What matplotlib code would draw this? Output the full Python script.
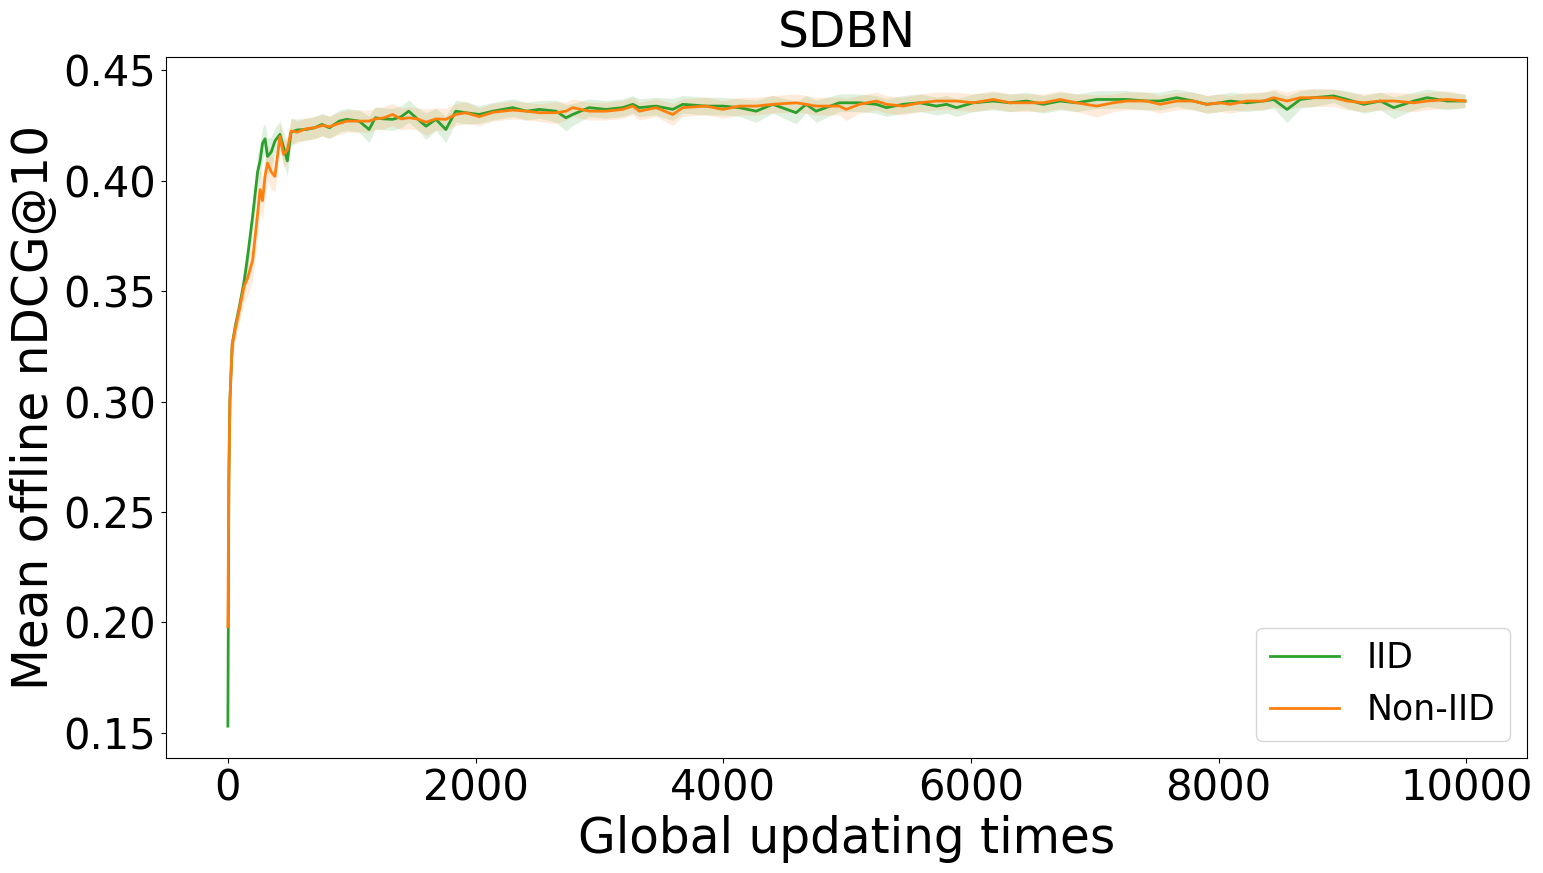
import matplotlib
matplotlib.use("Agg")
import matplotlib.pyplot as plt
import numpy as np

# sample positions (global updating times)
steps = [
    0, 8, 16, 35, 60, 90, 130, 160, 200, 240,
    260, 280, 300, 320, 350, 380, 420, 450, 480, 510,
    560, 630, 700, 760, 820, 900, 960, 1060, 1140, 1190,
    1260, 1330, 1400, 1460, 1530, 1600, 1680, 1760, 1840, 1920,
    2030, 2140, 2300, 2410, 2514, 2649, 2730, 2784, 2918, 3053,
    3188, 3269, 3323, 3457, 3592, 3673, 3861, 3996, 4130, 4265,
    4400, 4588, 4669, 4749, 4938, 4992, 5099, 5236, 5317, 5452,
    5587, 5721, 5802, 5883, 6018, 6180, 6315, 6449, 6584, 6719,
    6853, 7015, 7150, 7258, 7419, 7527, 7662, 7796, 7904, 8012,
    8093, 8228, 8363, 8444, 8552, 8660, 8768, 8929, 9037, 9172,
    9306, 9414, 9576, 9684, 9845, 9990,
]

iid_mean = [
    0.153, 0.265, 0.300, 0.326, 0.334, 0.342, 0.354, 0.366, 0.384, 0.404,
    0.409, 0.417, 0.419, 0.411, 0.413, 0.418, 0.421, 0.415, 0.409, 0.422,
    0.423, 0.4232, 0.424, 0.4255, 0.424, 0.427, 0.4278, 0.427, 0.4232, 0.4285,
    0.428, 0.4278, 0.429, 0.4315, 0.428, 0.4247, 0.4278, 0.4232, 0.4315, 0.4308,
    0.430, 0.4315, 0.4331, 0.4315, 0.4323, 0.4315, 0.4285, 0.4300, 0.4331, 0.4323,
    0.4331, 0.4346, 0.4331, 0.4338, 0.4323, 0.4346, 0.4338, 0.4338, 0.4331, 0.4315,
    0.4346, 0.4308, 0.4346, 0.4315, 0.4353, 0.4353, 0.4353, 0.4346, 0.4331, 0.4346,
    0.4353, 0.4338, 0.4346, 0.4331, 0.4353, 0.4361, 0.4353, 0.4361, 0.4346, 0.4361,
    0.4353, 0.4368, 0.4368, 0.4368, 0.4361, 0.4361, 0.4376, 0.4361, 0.4346, 0.4353,
    0.4361, 0.4353, 0.4361, 0.4368, 0.4323, 0.4368, 0.4376, 0.4384, 0.4368, 0.4346,
    0.4361, 0.4331, 0.4361, 0.4376, 0.4361, 0.4361,
]

noniid_mean = [
    0.198, 0.265, 0.300, 0.326, 0.333, 0.341, 0.352, 0.356, 0.364, 0.385,
    0.396, 0.391, 0.402, 0.408, 0.404, 0.402, 0.420, 0.412, 0.414, 0.4225,
    0.422, 0.4235, 0.424, 0.425, 0.4245, 0.426, 0.427, 0.427, 0.427, 0.428,
    0.4285, 0.430, 0.428, 0.4285, 0.428, 0.4265, 0.428, 0.4278, 0.430, 0.4308,
    0.429, 0.431, 0.432, 0.4315, 0.4308, 0.4308, 0.4315, 0.4331, 0.4315, 0.4315,
    0.4323, 0.4338, 0.4315, 0.4331, 0.4300, 0.4331, 0.4338, 0.4323, 0.4338, 0.4338,
    0.4346, 0.4353, 0.4346, 0.4338, 0.4338, 0.4323, 0.4346, 0.4361, 0.4346, 0.4338,
    0.4353, 0.4361, 0.4361, 0.4361, 0.4353, 0.4368, 0.4353, 0.4353, 0.4353, 0.4368,
    0.4353, 0.4338, 0.4353, 0.4361, 0.4361, 0.4346, 0.4361, 0.4361, 0.4346, 0.4353,
    0.4346, 0.4361, 0.4361, 0.4376, 0.4361, 0.4376, 0.4376, 0.4376, 0.4361, 0.4353,
    0.4361, 0.4361, 0.4353, 0.4361, 0.4368, 0.4361,
]

iid_std = [
    0.000, 0.004, 0.006, 0.006, 0.005, 0.005, 0.006, 0.006, 0.007, 0.008,
    0.008, 0.007, 0.007, 0.008, 0.007, 0.006, 0.006, 0.007, 0.007, 0.006,
    0.005, 0.005, 0.005, 0.005, 0.005, 0.005, 0.005, 0.005, 0.006, 0.005,
    0.005, 0.005, 0.005, 0.005, 0.005, 0.006, 0.005, 0.006, 0.005, 0.005,
    0.004, 0.004, 0.004, 0.004, 0.004, 0.005, 0.006, 0.005, 0.004, 0.004,
    0.004, 0.004, 0.004, 0.004, 0.005, 0.004, 0.004, 0.004, 0.004, 0.005,
    0.004, 0.005, 0.004, 0.005, 0.004, 0.004, 0.004, 0.004, 0.004, 0.004,
    0.004, 0.004, 0.004, 0.004, 0.004, 0.004, 0.004, 0.004, 0.004, 0.004,
    0.004, 0.004, 0.004, 0.004, 0.004, 0.004, 0.004, 0.004, 0.004, 0.004,
    0.004, 0.004, 0.004, 0.004, 0.006, 0.004, 0.004, 0.003, 0.004, 0.004,
    0.004, 0.005, 0.004, 0.004, 0.004, 0.003,
]

noniid_std = [
    0.000, 0.004, 0.006, 0.006, 0.006, 0.006, 0.007, 0.008, 0.009, 0.010,
    0.010, 0.009, 0.009, 0.008, 0.008, 0.007, 0.006, 0.006, 0.006, 0.006,
    0.005, 0.005, 0.005, 0.005, 0.005, 0.005, 0.005, 0.005, 0.005, 0.005,
    0.005, 0.005, 0.005, 0.005, 0.005, 0.006, 0.005, 0.005, 0.005, 0.005,
    0.004, 0.004, 0.004, 0.004, 0.004, 0.005, 0.004, 0.004, 0.004, 0.004,
    0.004, 0.004, 0.004, 0.004, 0.005, 0.004, 0.004, 0.004, 0.004, 0.004,
    0.004, 0.004, 0.004, 0.004, 0.004, 0.005, 0.004, 0.004, 0.004, 0.004,
    0.004, 0.004, 0.004, 0.004, 0.004, 0.004, 0.004, 0.004, 0.004, 0.004,
    0.004, 0.005, 0.004, 0.004, 0.004, 0.004, 0.004, 0.004, 0.004, 0.004,
    0.004, 0.004, 0.004, 0.004, 0.004, 0.004, 0.004, 0.004, 0.004, 0.004,
    0.004, 0.004, 0.004, 0.004, 0.004, 0.003,
]

series = [
    ("IID", iid_mean, iid_std, "#2ca02c"),
    ("Non-IID", noniid_mean, noniid_std, "#ff7f0e"),
]


def main() -> None:
    fig = plt.figure(figsize=(15.43, 8.73), dpi=100)
    ax = fig.add_axes([0.1076, 0.1317, 0.882, 0.803])

    x = np.array(steps)
    for label, mean, std, color in series:
        m = np.array(mean)
        s = np.array(std)
        ax.plot(x, m, color=color, linewidth=2, label=label)
        ax.fill_between(x, m - s, m + s, color=color, alpha=0.15, linewidth=0)

    ax.set_title("SDBN", fontsize=35)
    ax.set_xlabel("Global updating times", fontsize=35)
    ax.set_ylabel("Mean offline nDCG@10", fontsize=35)
    ax.tick_params(labelsize=30)
    ax.set_yticks([0.15, 0.20, 0.25, 0.30, 0.35, 0.40, 0.45])
    ax.legend(loc="lower right", fontsize=25)

    fig.savefig("out.png", dpi=100)
    plt.close(fig)


if __name__ == "__main__":
    main()
